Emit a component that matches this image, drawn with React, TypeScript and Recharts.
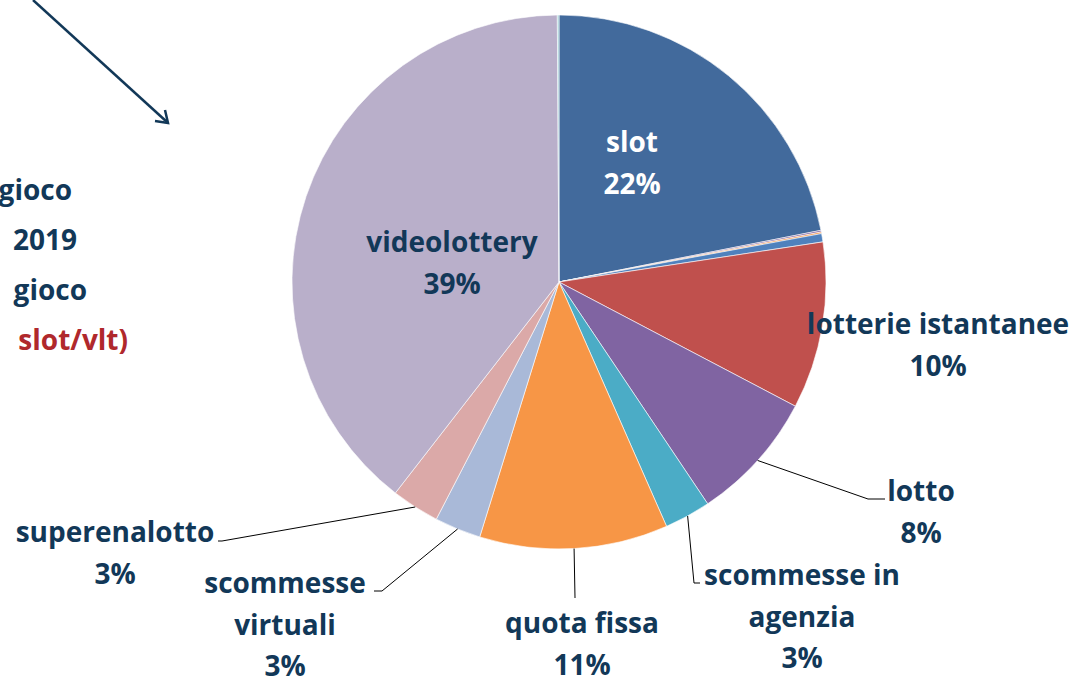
import React from 'react';
import { PieChart, Pie, Cell } from 'recharts';

// spesa per tipologia di gioco (quota %)
const CATEGORIES = [
  'slot',
  'skill games',
  'bingo',
  'ippica',
  'lotterie istantanee',
  'lotto',
  'scommesse in agenzia',
  'quota fissa',
  'scommesse virtuali',
  'superenalotto',
  'videolottery',
  'altri giochi',
];
const VALUES = [21.9, 0.1, 0.1, 0.5, 10.1, 7.9, 2.8, 11.4, 2.8, 2.9, 39.4, 0.1];
const COLORS = [
  '#426A9C', '#8064A2', '#F79646', '#4F81BD', '#C0504D', '#8064A2',
  '#4BACC6', '#F79646', '#A9B9D8', '#DBA9A8', '#B9AFCA', '#9BC9D3',
];
// text lines of each visible label (the percentage is appended)
const LABEL_LINES: Record<string, string[]> = {
  slot: ['slot'],
  'lotterie istantanee': ['lotterie istantanee'],
  lotto: ['lotto'],
  'scommesse in agenzia': ['scommesse in', 'agenzia'],
  'quota fissa': ['quota fissa'],
  'scommesse virtuali': ['scommesse', 'virtuali'],
  superenalotto: ['superenalotto'],
  videolottery: ['videolottery'],
};
const SIDE_TEXT = ['gioco', '2019', 'gioco', 'slot/vlt)'];

const NAVY = '#123858';
const FONT = '"Open Sans", sans-serif';
const FONT_SIZE = 28;
const RADIAN = Math.PI / 180;
const LINE_H = 41.5;

// where each label sits, relative to the pie centre, plus leader line elbow/end
const LAYOUT: Record<string, { dx: number; dy: number; color?: string; elbow?: [number, number]; end?: [number, number] }> = {
  slot: { dx: 73, dy: -141, color: '#fff' },
  videolottery: { dx: -107, dy: -41 },
  'lotterie istantanee': { dx: 379, dy: 41 },
  lotto: { dx: 362, dy: 208, elbow: [309, 217], end: [326, 217] },
  'scommesse in agenzia': { dx: 243, dy: 292, elbow: [135, 301], end: [141, 301] },
  'quota fissa': { dx: 23, dy: 340, elbow: [16, 316], end: [16, 316] },
  'scommesse virtuali': { dx: -274, dy: 300, elbow: [-177, 309], end: [-185, 309] },
  superenalotto: { dx: -444, dy: 249, elbow: [-337, 259], end: [-341, 259] },
};

const data = CATEGORIES.map((name, i) => ({ name, value: VALUES[i] }));

const renderLabel = (props: any) => {
  const { cx, cy, midAngle, outerRadius, percent, name } = props;
  const lines = LABEL_LINES[name];
  const pos = LAYOUT[name];
  if (!lines || !pos) return null;
  const all = [...lines, `${Math.round(percent * 100)}%`];
  const sx = cx + outerRadius * Math.cos(-midAngle * RADIAN);
  const sy = cy + outerRadius * Math.sin(-midAngle * RADIAN);
  return (
    <g key={`lbl-${name}`}>
      {pos.elbow && pos.end && (
        <polyline
          points={`${sx},${sy} ${cx + pos.elbow[0]},${cy + pos.elbow[1]} ${cx + pos.end[0]},${cy + pos.end[1]}`}
          fill="none"
          stroke="#000"
          strokeWidth={1}
        />
      )}
      <text
        x={cx + pos.dx}
        y={cy + pos.dy}
        fill={pos.color || NAVY}
        textAnchor="middle"
        dominantBaseline="central"
        style={{ fontFamily: FONT, fontWeight: 700, fontSize: FONT_SIZE }}
      >
        {all.map((l, i) => (
          <tspan key={i} x={cx + pos.dx} dy={i === 0 ? 0 : LINE_H}>
            {l}
          </tspan>
        ))}
      </text>
    </g>
  );
};

export default function App() {
  return (
    <div style={{ position: 'absolute', left: 0, top: 0, width: 1085, height: 679, background: '#fff', overflow: 'hidden' }}>
      <svg width={1085} height={679} style={{ position: 'absolute', left: 0, top: 0 }}>
        <line x1={33} y1={0} x2={167} y2={122} stroke={NAVY} strokeWidth={2.5} />
        <polyline points="155,121 168,123 165,110" fill="none" stroke={NAVY} strokeWidth={2.5} />
        {SIDE_TEXT.map((t, i) => (
          <text
            key={i}
            x={[72, 77, 87, 128][i]}
            y={189 + i * 50}
            textAnchor="end"
            dominantBaseline="central"
            fill={i === 3 ? '#B0282C' : NAVY}
            style={{ fontFamily: FONT, fontWeight: 700, fontSize: FONT_SIZE }}
          >
            {t}
          </text>
        ))}
      </svg>
      <div style={{ position: 'absolute', left: 0, top: 0 }}>
        <PieChart width={1085} height={679} margin={{ top: 0, right: 0, bottom: 0, left: 0 }}>
          <Pie
            data={data}
            dataKey="value"
            nameKey="name"
            cx={559}
            cy={282}
            outerRadius={267}
            startAngle={90}
            endAngle={-270}
            stroke="#fff"
            strokeWidth={0.6}
            labelLine={false}
            label={renderLabel}
            isAnimationActive={false}
          >
            {data.map((d, i) => (
              <Cell key={`cell-${i}`} fill={COLORS[i]} />
            ))}
          </Pie>
        </PieChart>
      </div>
    </div>
  );
}
